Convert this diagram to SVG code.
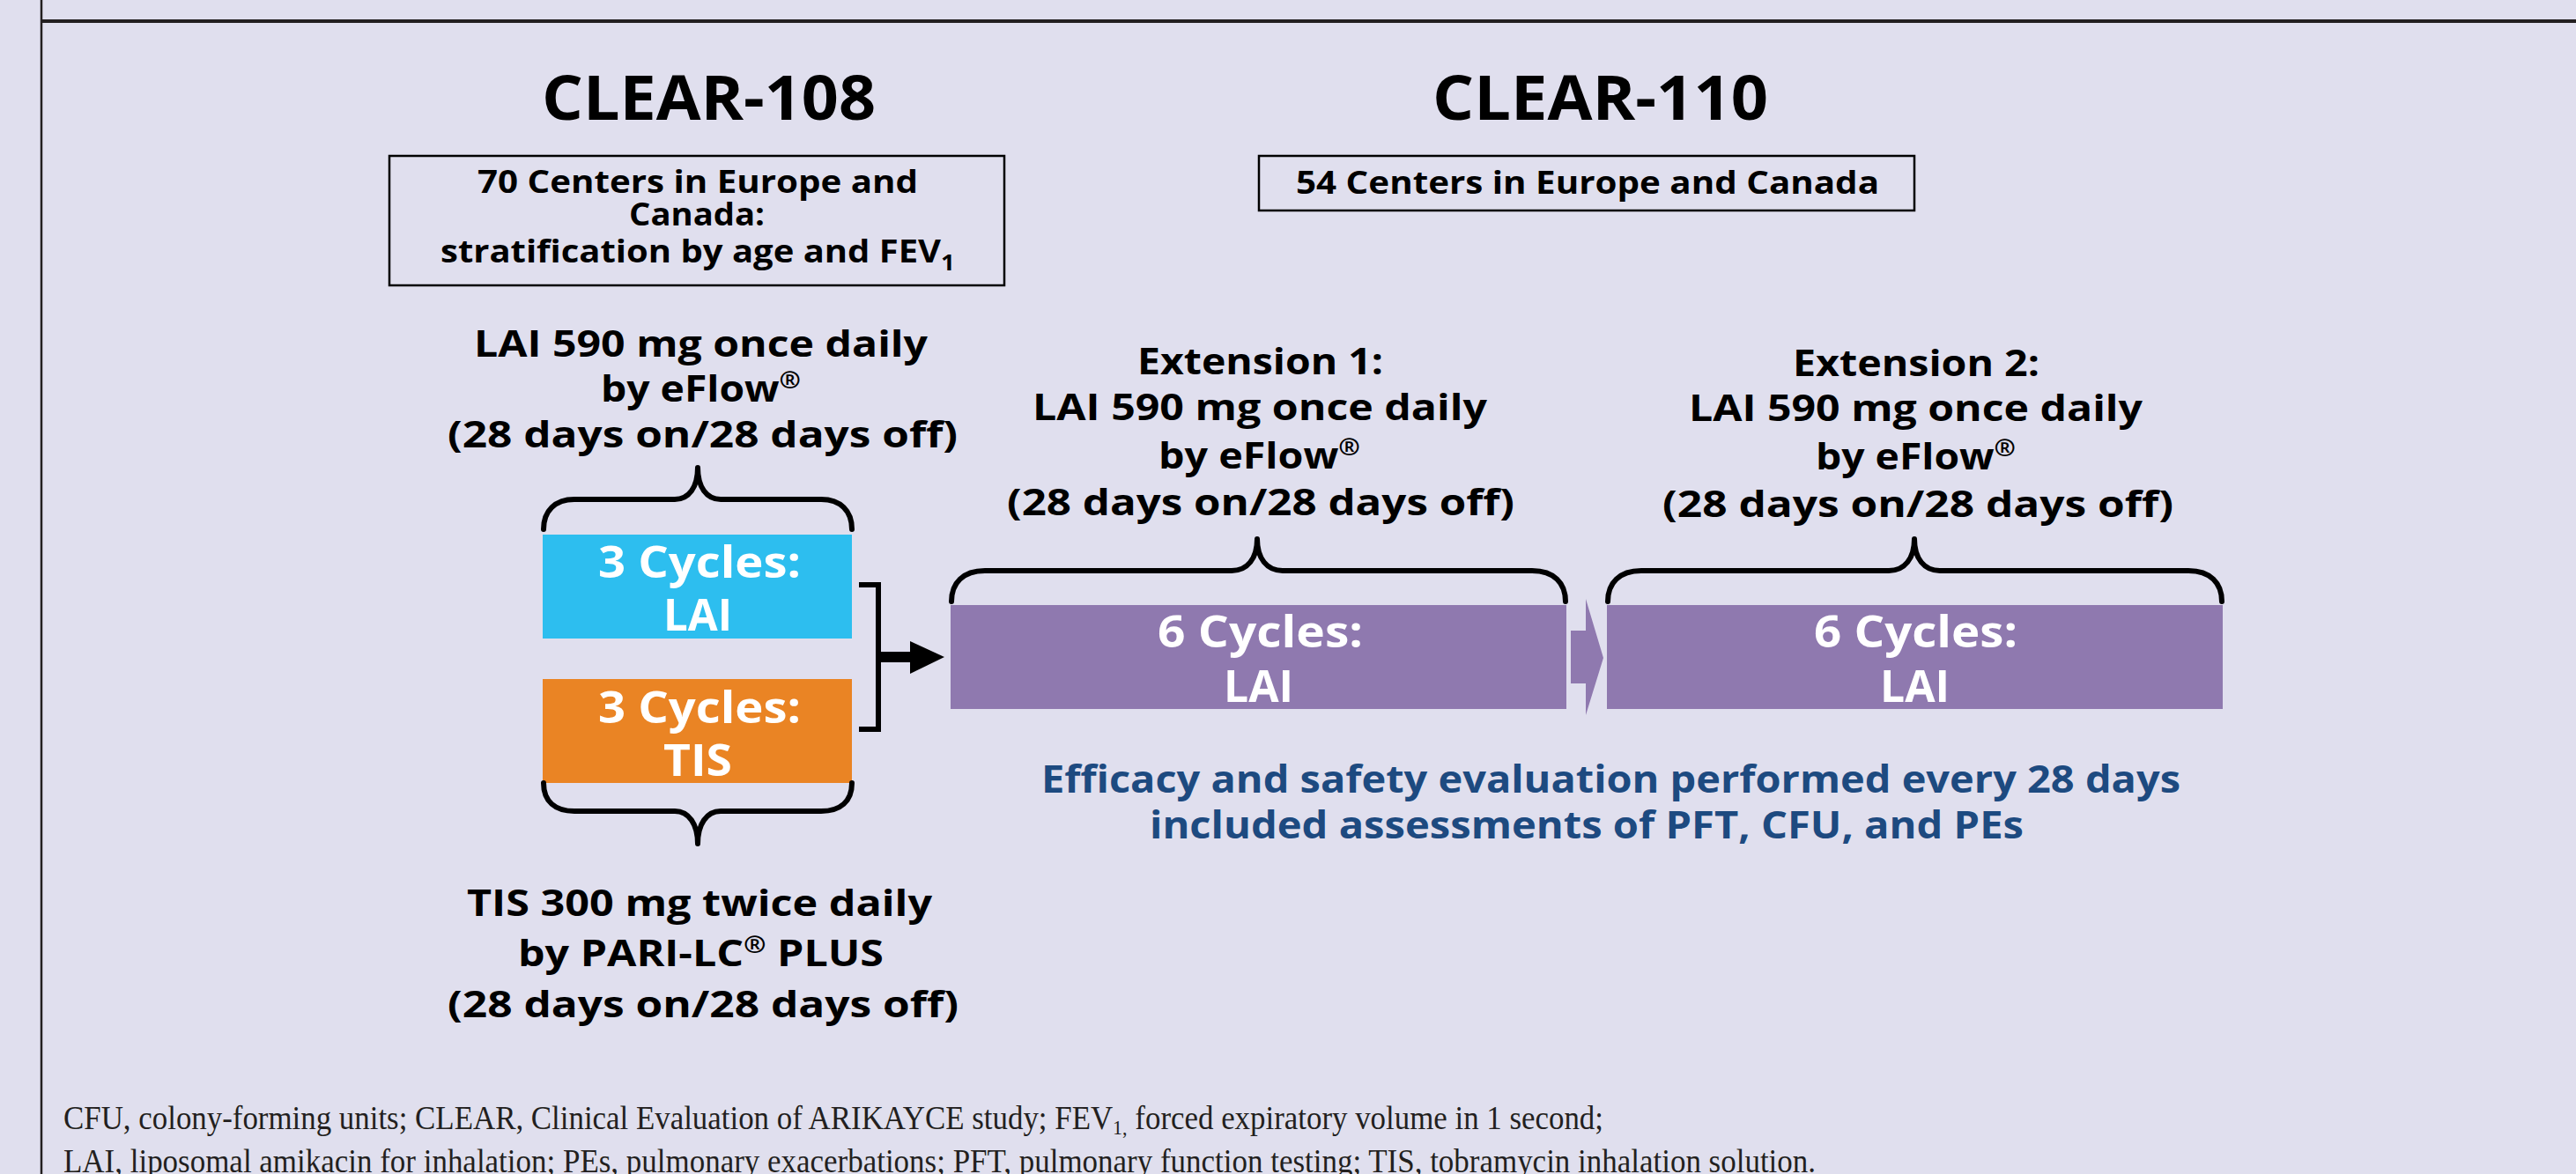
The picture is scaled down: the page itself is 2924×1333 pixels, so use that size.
<svg xmlns="http://www.w3.org/2000/svg" width="2924" height="1333" viewBox="0 0 2924 1333">
  <defs>
    <style>
      .sans { font-family: "Open Sans", "Noto Sans", "DejaVu Sans", sans-serif; font-weight: 700; }
      .title { font-size: 70px; fill: #000; }
      .box-text { font-size: 36px; fill: #000; }
      .label { font-size: 41px; fill: #000; }
      .cyc { font-size: 50px; fill: #fff; }
      .eff { font-size: 43px; fill: #1D4A80; }
      .foot { font-family: "Liberation Serif", "Times New Roman", serif; font-size: 38px; fill: #231F20; }
      .frame { fill: none; stroke: #000; stroke-width: 2.5; }
      .brace { fill: none; stroke: #000; stroke-width: 6; stroke-linecap: round; stroke-linejoin: round; }
      .reg { font-size: 26px; }
    </style>
  </defs>

  <rect x="0" y="0" width="2924" height="1333" fill="#E0DFEE"/>
  <line x1="47" y1="24" x2="2924" y2="24" stroke="#231F20" stroke-width="4"/>
  <line x1="47" y1="0" x2="47" y2="1333" stroke="#231F20" stroke-width="2.5"/>

  <g id="title-clear108">
    <text class="sans title" x="615" y="136" textLength="379" lengthAdjust="spacingAndGlyphs">CLEAR-108</text>
  </g>
  <g id="title-clear110">
    <text class="sans title" x="1626" y="136" textLength="381" lengthAdjust="spacingAndGlyphs">CLEAR-110</text>
  </g>

  <g id="centers-clear108">
    <rect class="frame" x="442" y="177" width="698" height="147"/>
    <text class="sans box-text" x="542" y="219" textLength="500" lengthAdjust="spacingAndGlyphs">70 Centers in Europe and</text>
    <text class="sans box-text" x="714" y="256" textLength="154" lengthAdjust="spacingAndGlyphs">Canada:</text>
    <text class="sans box-text" x="500" y="298" textLength="584" lengthAdjust="spacingAndGlyphs">stratification by age and FEV<tspan dy="9" font-size="25">1</tspan></text>
  </g>

  <g id="centers-clear110">
    <rect class="frame" x="1429" y="177" width="744" height="62"/>
    <text class="sans box-text" x="1471" y="220" textLength="662" lengthAdjust="spacingAndGlyphs">54 Centers in Europe and Canada</text>
  </g>

  <g id="label-lai">
    <text class="sans label" x="538" y="405" textLength="515" lengthAdjust="spacingAndGlyphs">LAI 590 mg once daily</text>
    <text class="sans label" x="682" y="456" textLength="227" lengthAdjust="spacingAndGlyphs">by eFlow<tspan class="reg" dy="-15">®</tspan></text>
    <text class="sans label" x="508" y="508" textLength="579" lengthAdjust="spacingAndGlyphs">(28 days on/28 days off)</text>
  </g>

  <g id="cycles-lai">
    <rect x="616" y="607" width="351" height="118" fill="#2DBEEF"/>
    <text class="sans cyc" x="679" y="656" textLength="230" lengthAdjust="spacingAndGlyphs">3 Cycles:</text>
    <text class="sans cyc" x="753" y="716" textLength="78" lengthAdjust="spacingAndGlyphs">LAI</text>
  </g>

  <g id="cycles-tis">
    <rect x="616" y="771" width="351" height="118" fill="#EA8424"/>
    <text class="sans cyc" x="679" y="821" textLength="230" lengthAdjust="spacingAndGlyphs">3 Cycles:</text>
    <text class="sans cyc" x="753" y="881" textLength="78" lengthAdjust="spacingAndGlyphs">TIS</text>
  </g>

  <g id="label-tis">
    <text class="sans label" x="530" y="1040" textLength="528" lengthAdjust="spacingAndGlyphs">TIS 300 mg twice daily</text>
    <text class="sans label" x="588" y="1097" textLength="415" lengthAdjust="spacingAndGlyphs">by PARI-LC<tspan class="reg" dy="-15">®</tspan><tspan dy="15"> PLUS</tspan></text>
    <text class="sans label" x="508" y="1155" textLength="580" lengthAdjust="spacingAndGlyphs">(28 days on/28 days off)</text>
  </g>

  <g id="label-ext1">
    <text class="sans label" x="1291" y="425" textLength="279" lengthAdjust="spacingAndGlyphs">Extension 1:</text>
    <text class="sans label" x="1172" y="477" textLength="516" lengthAdjust="spacingAndGlyphs">LAI 590 mg once daily</text>
    <text class="sans label" x="1315" y="532" textLength="229" lengthAdjust="spacingAndGlyphs">by eFlow<tspan class="reg" dy="-15">®</tspan></text>
    <text class="sans label" x="1143" y="585" textLength="576" lengthAdjust="spacingAndGlyphs">(28 days on/28 days off)</text>
  </g>

  <g id="cycles-ext1">
    <rect x="1079" y="687" width="699" height="118" fill="#8F79AF"/>
    <text class="sans cyc" x="1314" y="735" textLength="233" lengthAdjust="spacingAndGlyphs">6 Cycles:</text>
    <text class="sans cyc" x="1389" y="797" textLength="79" lengthAdjust="spacingAndGlyphs">LAI</text>
  </g>

  <g id="label-ext2">
    <text class="sans label" x="2035" y="427" textLength="280" lengthAdjust="spacingAndGlyphs">Extension 2:</text>
    <text class="sans label" x="1917" y="478" textLength="515" lengthAdjust="spacingAndGlyphs">LAI 590 mg once daily</text>
    <text class="sans label" x="2061" y="533" textLength="227" lengthAdjust="spacingAndGlyphs">by eFlow<tspan class="reg" dy="-15">®</tspan></text>
    <text class="sans label" x="1887" y="587" textLength="580" lengthAdjust="spacingAndGlyphs">(28 days on/28 days off)</text>
  </g>

  <g id="cycles-ext2">
    <rect x="1824" y="687" width="699" height="118" fill="#8F79AF"/>
    <text class="sans cyc" x="2059" y="735" textLength="231" lengthAdjust="spacingAndGlyphs">6 Cycles:</text>
    <text class="sans cyc" x="2134" y="797" textLength="79" lengthAdjust="spacingAndGlyphs">LAI</text>
  </g>

  <g id="efficacy-note">
    <text class="sans eff" x="1182" y="900" textLength="1293" lengthAdjust="spacingAndGlyphs">Efficacy and safety evaluation performed every 28 days</text>
    <text class="sans eff" x="1305" y="952" textLength="992" lengthAdjust="spacingAndGlyphs">included assessments of PFT, CFU, and PEs</text>
  </g>

  <g id="braces">
    <path class="brace" d="M617,601 C617,580 630,567 652,567 L766,567 C782,567 792,553 792,531 C792,553 802,567 818,567 L932,567 C954,567 967,580 967,601"/>
    <path class="brace" d="M617,889 C617,910 630,921 652,921 L766,921 C782,921 792,936 792,958 C792,936 802,921 818,921 L932,921 C954,921 967,910 967,889"/>
    <path class="brace" d="M1080,683 C1080,662 1093,648 1118,648 L1398,648 C1416,648 1427,634 1427,612 C1427,634 1438,648 1456,648 L1739,648 C1764,648 1777,662 1777,683"/>
    <path class="brace" d="M1825,683 C1825,662 1838,648 1863,648 L2144,648 C2162,648 2173,634 2173,612 C2173,634 2184,648 2202,648 L2484,648 C2509,648 2522,662 2522,683"/>
  </g>

  <g id="connectors">
    <path d="M975,664 L997,664 L997,828 L975,828" fill="none" stroke="#000" stroke-width="6"/>
    <line x1="997" y1="746" x2="1036" y2="746" stroke="#000" stroke-width="12"/>
    <polygon points="1033,728 1072,746 1033,765" fill="#000"/>
    <polygon points="1783,716 1800,716 1800,680 1820,747 1800,812 1800,776 1783,776" fill="#8F79AF"/>
  </g>

  <g id="footnote">
    <text class="foot" x="72" y="1282" textLength="1748" lengthAdjust="spacingAndGlyphs">CFU, colony-forming units; CLEAR, Clinical Evaluation of ARIKAYCE study; FEV<tspan font-size="24" dy="6">1,</tspan><tspan dy="-6"> forced expiratory volume in 1 second;</tspan></text>
    <text class="foot" x="72" y="1331" textLength="1989" lengthAdjust="spacingAndGlyphs">LAI, liposomal amikacin for inhalation; PEs, pulmonary exacerbations; PFT, pulmonary function testing; TIS, tobramycin inhalation solution.</text>
  </g>
</svg>
